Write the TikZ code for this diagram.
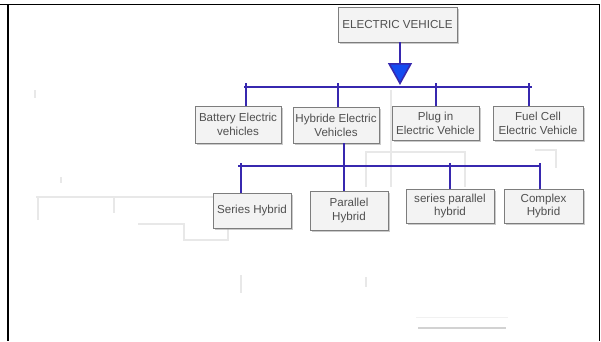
\documentclass[tikz,border=0pt]{standalone}
\usepackage{fontspec}
\setmainfont{Liberation Sans}
\usetikzlibrary{shadows,arrows.meta}
\definecolor{linkblue}{RGB}{55,40,175}
\definecolor{tipblue}{RGB}{20,75,240}
\definecolor{boxfill}{RGB}{243,243,243}
\definecolor{boxline}{RGB}{125,125,125}
\definecolor{txt}{RGB}{80,80,80}
\definecolor{ghost}{RGB}{232,232,232}
\begin{document}
\begin{tikzpicture}[x=1pt,y=-1pt,
  box/.style={draw=boxline, fill=boxfill, line width=0.8pt, text=txt,
    font=\fontsize{11.6}{13.8}\selectfont, align=center, inner sep=0pt,
    drop shadow={shadow xshift=1.6pt, shadow yshift=-1.6pt, fill=gray!70, opacity=0.6}},
  link/.style={draw=linkblue, line width=1.6pt},
  ghostline/.style={draw=ghost, line width=1.3pt},
  frameline/.style={draw=black, line width=1.8pt}]
\useasboundingbox (0,0) rectangle (601,341);
% frame
\draw[frameline] (0,4.5) -- (600,4.5);
\draw[frameline] (8,4.5) -- (8,341);
\draw[frameline] (599.5,4.5) -- (599.5,341);
% faint ghost lines
\draw[ghostline] (391,90) -- (391,187);
\draw[ghostline] (366,187) -- (366,152) -- (465,152) -- (465,187);
\draw[ghostline] (535,150) -- (556,150) -- (556,168);
\draw[ghostline] (36,197) -- (215,197);
\draw[ghostline] (38,197) -- (38,220);
\draw[ghostline] (114,197) -- (114,213);
\draw[ghostline] (138,224) -- (184,224) -- (184,240) -- (228,240) -- (228,228);
\draw[ghostline] (35,90) -- (35,98);
\draw[ghostline] (61,177) -- (61,183);
\draw[ghostline] (241,275) -- (241,293);
\draw[ghostline] (366,277) -- (366,287);
\draw[draw=ghost!60, line width=0.8pt] (416,317) -- (508,317);
\draw[draw=gray!35, line width=1.2pt] (418,328) -- (506,328);
% nodes
\node[box, minimum width=119pt, minimum height=35pt] (ev) at (397.5,24.5) {ELECTRIC VEHICLE};
\node[box, minimum width=86pt, minimum height=37pt] (bat) at (238,124.5) {Battery Electric\\vehicles};
\node[box, minimum width=86pt, minimum height=36pt] (hyb) at (336,125) {Hybride Electric\\Vehicles};
\node[box, minimum width=87pt, minimum height=34pt] (plug) at (435.5,123) {Plug in\\Electric Vehicle};
\node[box, minimum width=90pt, minimum height=34pt] (fuel) at (538,123) {Fuel Cell\\Electric Vehicle};
\node[box, minimum width=78pt, minimum height=35pt] (ser) at (252,210.5) {Series Hybrid};
\node[box, minimum width=78pt, minimum height=39pt] (par) at (349,210.5) {Parallel\\Hybrid};
\node[box, minimum width=88pt, minimum height=34pt] (sp) at (450,206) {series parallel\\hybrid};
\node[box, minimum width=79pt, minimum height=34pt] (cx) at (543.5,206) {Complex\\Hybrid};
% first level connectors
\coordinate (tip) at (400,85);
\draw[link, -{Triangle[width=24pt,length=22pt,fill=tipblue]}] (ev.south -| tip) -- (tip);
\coordinate (b1l) at (244,87);
\coordinate (b1r) at (532,87);
\draw[link] (b1l) -- (b1r);
\coordinate (t1) at (246,83);
\coordinate (t2) at (338,83);
\coordinate (t3) at (436,83);
\coordinate (t4) at (529,83);
\draw[link] (t1) -- (t1 |- bat.north);
\draw[link] (t2) -- (t2 |- hyb.north);
\draw[link] (t3) -- (t3 |- plug.north);
\draw[link] (t4) -- (t4 |- fuel.north);
% second level connectors
\coordinate (h) at (344,166);
\draw[link] (h |- hyb.south) -- (h |- par.north);
\coordinate (b2l) at (238,166);
\coordinate (b2r) at (541,166);
\draw[link] (b2l) -- (b2r);
\coordinate (s1) at (241,163);
\coordinate (s3) at (450,163);
\coordinate (s4) at (540,163);
\draw[link] (s1) -- (s1 |- ser.north);
\draw[link] (s3) -- (s3 |- sp.north);
\draw[link] (s4) -- (s4 |- cx.north);
\end{tikzpicture}
\end{document}
